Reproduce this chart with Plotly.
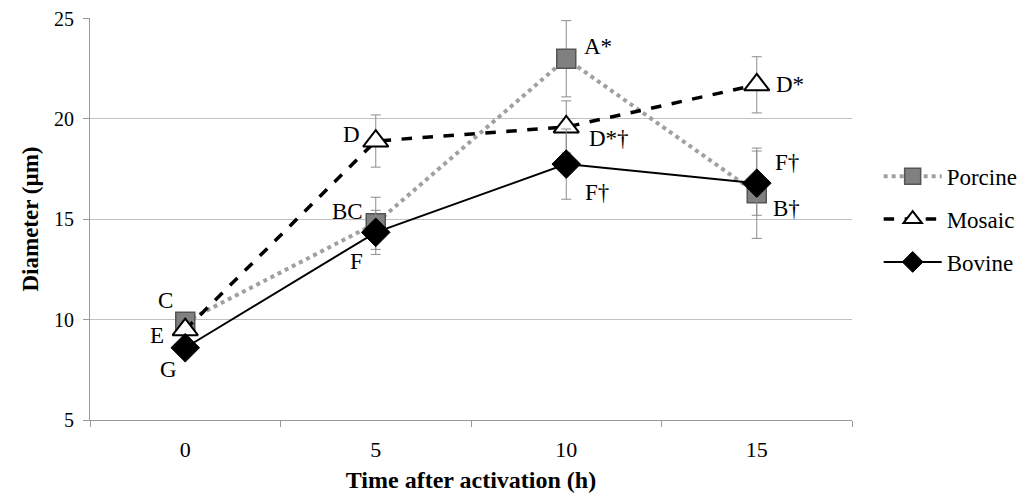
import plotly.graph_objects as go

categories = ["0", "5", "10", "15"]
porcine = [9.9, 14.8, 23.0, 16.3]
porcine_err = [0.3, 1.3, 1.9, 2.25]
mosaic = [9.5, 18.9, 19.6, 21.7]
mosaic_err = [0.3, 1.3, 1.3, 1.4]
bovine = [8.6, 14.35, 17.75, 16.8]
bovine_err = [0.3, 1.1, 1.75, 1.6]

# labels: (category index, y, text, xshift, yshift)
labels = [
    (0, 9.9, "C", -20, 21),
    (0, 9.5, "E", -28, -6),
    (0, 8.6, "G", -17, -22),
    (1, 18.9, "D", -24, 7),
    (1, 14.8, "BC", -28, 12),
    (1, 14.35, "F", -19, -29),
    (2, 23.0, "A*", 32, 12),
    (2, 19.6, "D*†", 43, -12),
    (2, 17.75, "F†", 31, -28),
    (3, 21.7, "D*", 33, 0),
    (3, 16.8, "F†", 30, 21),
    (3, 16.3, "B†", 30, -15),
]

font = "Liberation Serif"
fig = go.Figure()
fig.add_trace(go.Scatter(
    x=categories, y=porcine, name="Porcine", mode="lines+markers",
    line=dict(color="#a0a0a0", width=4, dash="dot"),
    marker=dict(symbol="square", size=19, color="#808080", line=dict(color="#555555", width=1.5)),
    error_y=dict(type="data", array=porcine_err, color="#8c8c8c", thickness=1, width=5),
    legendgroup="p",
))
fig.add_trace(go.Scatter(
    x=categories, y=mosaic, name="Mosaic", mode="lines+markers",
    line=dict(color="black", width=3.5, dash="dash"),
    marker=dict(symbol="triangle-up", size=22, color="white", line=dict(color="black", width=2)),
    error_y=dict(type="data", array=mosaic_err, color="#8c8c8c", thickness=1, width=5),
    legendgroup="m",
))
fig.add_trace(go.Scatter(
    x=categories, y=bovine, name="Bovine", mode="lines+markers",
    line=dict(color="black", width=2),
    marker=dict(symbol="diamond", size=22, color="black", line=dict(color="black", width=1)),
    error_y=dict(type="data", array=bovine_err, color="#8c8c8c", thickness=1, width=5),
    legendgroup="b",
))

for ci, yv, txt, xs, ys in labels:
    fig.add_annotation(x=ci, y=yv, text=txt, showarrow=False, xshift=xs, yshift=ys,
                       font=dict(family=font, size=23, color="black"))

fig.update_layout(
    width=1013, height=485,
    margin=dict(l=82, r=169, t=10, b=73, autoexpand=False),
    plot_bgcolor="white", paper_bgcolor="white",
    font=dict(family=font, size=22, color="black"),
    showlegend=True,
    legend=dict(x=1.035, y=0.66, xanchor="left", yanchor="top",
                font=dict(family=font, size=23), tracegroupgap=10, itemwidth=58,
                traceorder="grouped", bgcolor="rgba(0,0,0,0)"),
)
fig.update_xaxes(
    type="category", categoryorder="array", categoryarray=categories,
    range=[-0.5, 3.5], automargin=False,
    tickson="boundaries", ticks="outside", ticklen=6, tickcolor="#999999",
    showline=True, linecolor="#999999", linewidth=1, showgrid=False,
    ticklabelstandoff=10,
    title=dict(text="<b>Time after activation (h)</b>", font=dict(family=font, size=24), standoff=12),
    tickfont=dict(family=font, size=22),
)
fig.update_yaxes(
    range=[5, 25.03], tickvals=[5, 10, 15, 20, 25], ticks="outside", ticklen=6,
    automargin=False,
    tickcolor="#999999", showline=True, linecolor="#999999", linewidth=1,
    showgrid=True, gridcolor="#c0c0c0", gridwidth=1, zeroline=False,
    ticklabelstandoff=5, ticklabeloverflow="allow",
    title=dict(text="<b>Diameter (µm)</b>", font=dict(family=font, size=23), standoff=8),
    tickfont=dict(family=font, size=20),
)
fig.write_html("out.html")
